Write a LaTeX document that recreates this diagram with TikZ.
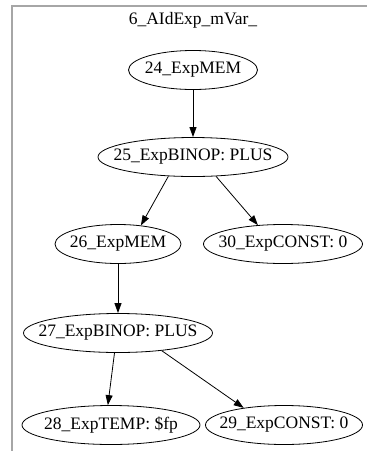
\documentclass[tikz,border=0pt]{standalone}
\usepackage{fontspec}
\setmainfont{Liberation Serif}
\usetikzlibrary{shapes,arrows,positioning,calc,arrows.meta}

\tikzset{
    ast/.style={draw, ellipse, line width=0.8pt, minimum height=39pt, inner ysep=0pt,
        inner xsep=-30pt, font=\fontsize{17.5}{20}\selectfont},
    astedge/.style={line width=0.8pt, -{Triangle[length=10pt,width=7pt]}}
}

\begin{document}
\begin{tikzpicture}[x=1pt, y=-1pt]
    \useasboundingbox (0,0) rectangle (367,451);
    \draw[gray!70, line width=1.5pt] (12,451) -- (12,6) -- (367,6);
    \node[font=\fontsize{17.5}{20}\selectfont] (title) at (193,20) {6\_AIdExp\_mVar\_};

    \node[ast, minimum width=129pt] (mem24) at (193,70) {24\_ExpMEM};
    \node[ast, minimum width=190pt] (binop25) at (193,157) {25\_ExpBINOP: PLUS};
    \node[ast, minimum width=126pt] (mem26) at (118,244) {26\_ExpMEM};
    \node[ast, minimum width=159pt] (const30) at (283,244) {30\_ExpCONST: 0};
    \node[ast, minimum width=189pt] (binop27) at (118,333) {27\_ExpBINOP: PLUS};
    \node[ast, minimum width=178pt] (temp28) at (111,425) {28\_ExpTEMP: \$fp};
    \node[ast, minimum width=157pt] (const29) at (284,425) {29\_ExpCONST: 0};

    \draw[astedge] (mem24) -- (binop25);
    \draw[astedge] (binop25.218) -- (mem26.39);
    \draw[astedge] (binop25.320) -- (const30.143);
    \draw[astedge] (mem26) -- (binop27);
    \draw[astedge] (binop27.260) -- (temp28.99);
    \draw[astedge] (binop27.338) -- (const29.157);
\end{tikzpicture}
\end{document}
